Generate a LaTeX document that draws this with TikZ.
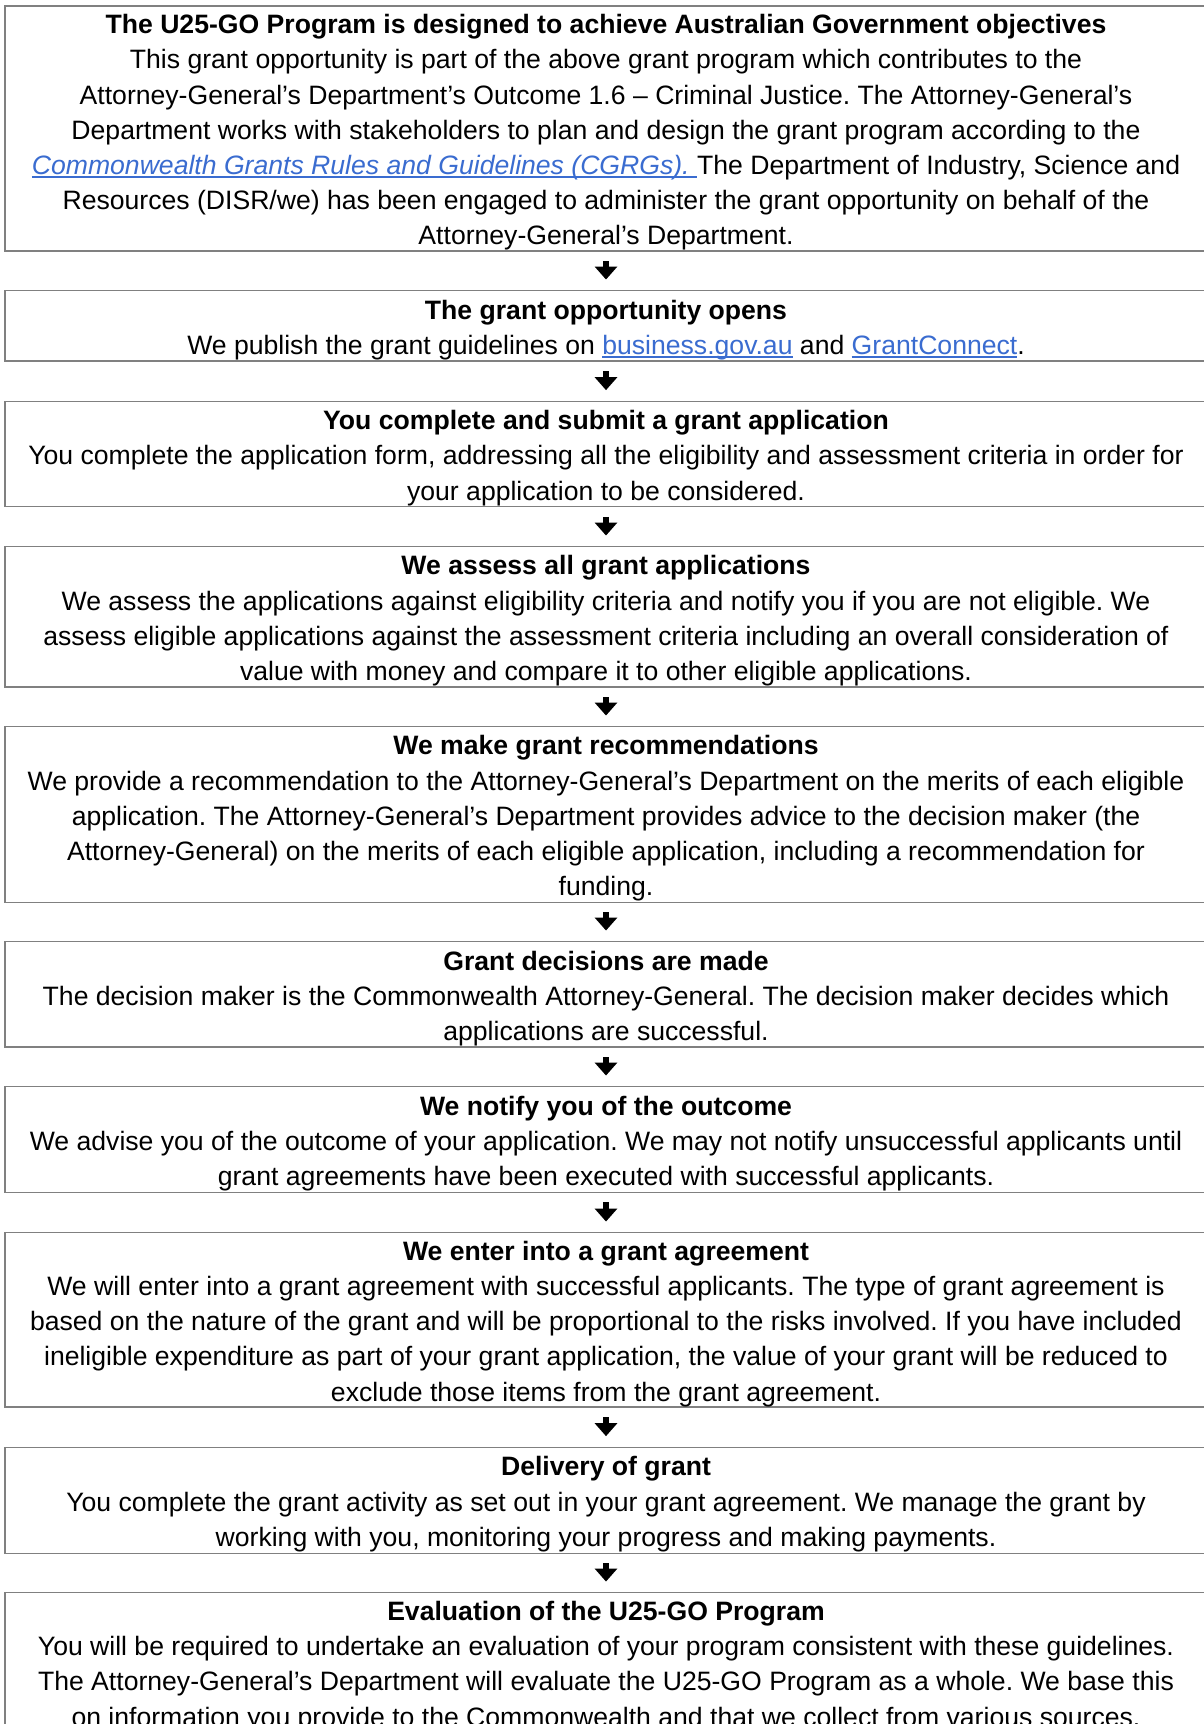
\documentclass[tikz,border=0pt]{standalone}
\usepackage{fontspec}
\setmainfont{Liberation Sans}
\usetikzlibrary{arrows.meta}
\definecolor{linkc}{RGB}{58,108,208}
\definecolor{edgec}{RGB}{128,128,128}
\newcommand\lnk[1]{{\color{linkc}\setbox0\hbox{#1}\rlap{\rule[-3.4pt]{\wd0}{1.8pt}}\box0}}
\tikzset{
  stagebox/.style={draw=edgec, line width=1.3pt, minimum width=1202pt, inner sep=0pt},
  stagetext/.style={align=center, inner sep=0pt, yshift=-4pt,
    font=\fontsize{26.6}{35.2}\selectfont\frenchspacing},
  flowarrow/.style={line width=5.5pt, -{Triangle[width=22pt,length=13pt]}, shorten <=9.5pt, shorten >=10.5pt}
}
\begin{document}
\begin{tikzpicture}[x=1pt,y=-1pt]
\useasboundingbox (0,0) rectangle (1204,1724);
\fill[white] (0,0) rectangle (1204,1724);
\node[stagebox, minimum height=245pt] (b1) at (606,128.5) {};
\node[stagebox, minimum height=70.3pt] (b2) at (606,325.85) {};
\node[stagebox, minimum height=105.4pt] (b3) at (606,454) {};
\node[stagebox, minimum height=140.3pt] (b4) at (606,616.85) {};
\node[stagebox, minimum height=175.6pt] (b5) at (606,814.5) {};
\node[stagebox, minimum height=105.3pt] (b6) at (606,994.35) {};
\node[stagebox, minimum height=105.6pt] (b7) at (606,1139.5) {};
\node[stagebox, minimum height=174.3pt] (b8) at (606,1319.85) {};
\node[stagebox, minimum height=106pt] (b9) at (606,1500.3) {};
\node[stagebox, minimum height=160pt] (b10) at (606,1672.7) {};
\node[stagetext] (t1) at (b1) {\textbf{The U25-GO Program is designed to achieve Australian Government objectives}\\
This grant opportunity is part of the above grant program which contributes to the\\
Attorney-General’s Department’s Outcome 1.6 – Criminal Justice. The Attorney-General’s\\
Department works with stakeholders to plan and design the grant program according to the\\
\lnk{\itshape Commonwealth Grants Rules and Guidelines (CGRGs).\ }The Department of Industry, Science and\\
Resources (DISR/we) has been engaged to administer the grant opportunity on behalf of the\\
Attorney-General’s Department.};
\node[stagetext] (t2) at (b2) {\textbf{The grant opportunity opens}\\
We publish the grant guidelines on \lnk{business.gov.au} and \lnk{GrantConnect}.};
\node[stagetext] (t3) at (b3) {\textbf{You complete and submit a grant application}\\
You complete the application form, addressing all the eligibility and assessment criteria in order for\\
your application to be considered.};
\node[stagetext] (t4) at (b4) {\textbf{We assess all grant applications}\\
We assess the applications against eligibility criteria and notify you if you are not eligible. We\\
assess eligible applications against the assessment criteria including an overall consideration of\\
value with money and compare it to other eligible applications.};
\node[stagetext] (t5) at (b5) {\textbf{We make grant recommendations}\\
We provide a recommendation to the Attorney-General’s Department on the merits of each eligible\\
application. The Attorney-General’s Department provides advice to the decision maker (the\\
Attorney-General) on the merits of each eligible application, including a recommendation for\\
funding.};
\node[stagetext] (t6) at (b6) {\textbf{Grant decisions are made}\\
The decision maker is the Commonwealth Attorney-General. The decision maker decides which\\
applications are successful.};
\node[stagetext] (t7) at (b7) {\textbf{We notify you of the outcome}\\
We advise you of the outcome of your application. We may not notify unsuccessful applicants until\\
grant agreements have been executed with successful applicants.};
\node[stagetext] (t8) at (b8) {\textbf{We enter into a grant agreement}\\
We will enter into a grant agreement with successful applicants. The type of grant agreement is\\
based on the nature of the grant and will be proportional to the risks involved. If you have included\\
ineligible expenditure as part of your grant application, the value of your grant will be reduced to\\
exclude those items from the grant agreement.};
\node[stagetext] (t9) at (b9) {\textbf{Delivery of grant}\\
You complete the grant activity as set out in your grant agreement. We manage the grant by\\
working with you, monitoring your progress and making payments.};
\node[stagetext] (t10) at (606,1662.5) {\textbf{Evaluation of the U25-GO Program}\\
You will be required to undertake an evaluation of your program consistent with these guidelines.\\
The Attorney-General’s Department will evaluate the U25-GO Program as a whole. We base this\\
on information you provide to the Commonwealth and that we collect from various sources.};
\draw[flowarrow] (b1) -- (b2);
\draw[flowarrow] (b2) -- (b3);
\draw[flowarrow] (b3) -- (b4);
\draw[flowarrow] (b4) -- (b5);
\draw[flowarrow] (b5) -- (b6);
\draw[flowarrow] (b6) -- (b7);
\draw[flowarrow] (b7) -- (b8);
\draw[flowarrow] (b8) -- (b9);
\draw[flowarrow] (b9) -- (b10);
\end{tikzpicture}
\end{document}
